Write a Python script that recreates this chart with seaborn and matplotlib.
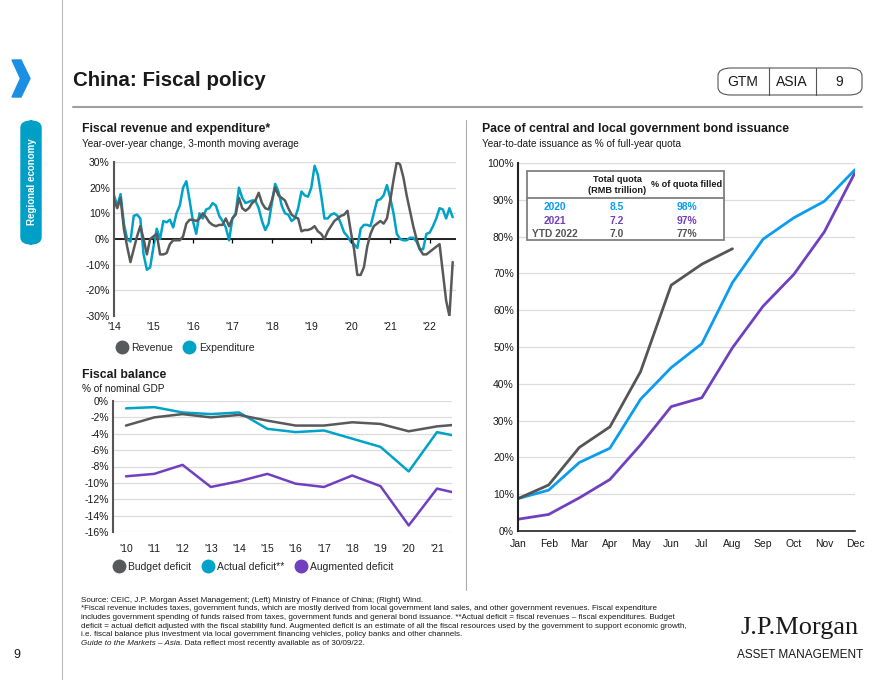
import numpy as np
import pandas as pd
import matplotlib
matplotlib.use('Agg')
import matplotlib.pyplot as plt
import matplotlib.font_manager as fm
from matplotlib.patches import Rectangle, FancyBboxPatch, Polygon
from matplotlib.lines import Line2D
import seaborn as sns

# ---- data ----
# Fiscal revenue / expenditure, yoy % 3m avg, Jan 2014 - Aug 2022
revenue = [
    15, 12, 16, 4, -3, -9, -4, 1, 5, 0, -6, 0,           # 2014
    1, 2, -6, -6, -5.5, -2, -0.5, -0.5, -0.5, 1, 6, 7.5,  # 2015
    7.5, 7, 8, 10, 8.5, 6.5, 5.5, 5, 5.5, 5.5, 8, 5,      # 2016
    8, 9.5, 16, 12, 11, 12, 14, 15, 18, 14, 12, 11.5,     # 2017
    15, 20, 17, 16, 15, 12, 9.5, 8.5, 8, 3, 3.5, 3.5,     # 2018
    4, 5, 3, 2, 0, 3, 5, 7, 8, 9, 9.5, 11,                # 2019
    3, -4, -14, -14, -11, -3, 2, 5, 6, 7, 6, 8,           # 2020
    15, 23, 30, 29, 24, 17, 11, 5, 0, -4, -6, -6,         # 2021
    -5, -4, -3, -2, -13, -24, -30, -9,                    # 2022
]
expenditure = [
    17, 13, 17.5, 6, 0, -1, 9, 9.5, 8, -6, -12, -11,      # 2014
    -3, 4, 0, 7, 6.5, 7.5, 4.5, 10, 13, 20, 22.5, 15,     # 2015
    7, 2, 10, 8, 11.5, 12, 14, 13, 9, 7, 4.5, -0.5,       # 2016
    8, 10, 20, 16, 14, 14.5, 15, 15, 12, 7, 3.5, 6,       # 2017
    14, 21.5, 18.5, 13, 10, 9.5, 7, 8, 12, 18.5, 17, 16.5,  # 2018
    20, 28.5, 25, 17, 8, 8, 9.5, 10, 9, 6, 2.5, 1,        # 2019
    -1, -2, -3.5, 4, 5.5, 5.5, 5, 10, 15, 15.5, 17, 21,   # 2020
    16, 10, 2, 0, -0.5, -0.5, 0.5, 0.5, -1, -4, -4, 2,    # 2021
    2.5, 5, 8, 12, 11.5, 8, 12, 8.5,                      # 2022
]
rev_ticks = ["'14", "'15", "'16", "'17", "'18", "'19", "'20", "'21", "'22"]

# Fiscal balance, % of nominal GDP
bal_years = list(range(2010, 2023))
bal_ticks = ["'10", "'11", "'12", "'13", "'14", "'15", "'16", "'17", "'18", "'19", "'20", "'21"]
budget_deficit = [-3.0, -2.0, -1.6, -2.0, -1.7, -2.4, -3.0, -3.0, -2.6, -2.8, -3.7, -3.1, -2.8]
actual_deficit = [-0.9, -0.75, -1.4, -1.6, -1.4, -3.4, -3.8, -3.6, -4.6, -5.6, -8.6, -3.8, -4.5]
augmented_deficit = [-9.2, -8.9, -7.8, -10.5, -9.8, -8.9, -10.1, -10.5, -9.1, -10.4, -15.2, -10.7, -11.5]

# Bond issuance, YTD % of full-year quota
months = ['Jan', 'Feb', 'Mar', 'Apr', 'May', 'Jun', 'Jul', 'Aug', 'Sep', 'Oct', 'Nov', 'Dec']
issuance_2020 = [8.8, 11.1, 18.6, 22.5, 35.8, 44.4, 50.9, 67.5, 79.3, 85.1, 89.6, 98.2]
issuance_2021 = [3.2, 4.5, 9.0, 14.0, 23.4, 33.8, 36.2, 49.8, 61.1, 69.7, 81.3, 97.4]
issuance_2022 = [8.8, 12.5, 22.7, 28.3, 43.3, 66.8, 72.5, 76.7]

table_years = ['2020', '2021', 'YTD 2022']
table_quota = ['8.5', '7.2', '7.0']
table_filled = ['98%', '97%', '77%']

# ---- style ----
sns.set_style('white')
names = {f.name for f in fm.fontManager.ttflist}
narrow = 'Liberation Sans Narrow' if 'Liberation Sans Narrow' in names else 'Liberation Sans'
has_narrow = narrow != 'Liberation Sans'
plt.rcParams['font.family'] = ['Liberation Sans', 'DejaVu Sans']

GRAY = '#58595B'
TEAL = '#00A3C8'
PURPLE = '#7040C0'
BLUE = '#0A9CF0'
GRID = '#DCDCDC'
TXT = '#1A1A1A'

W, H = 880, 680
fig = plt.figure(figsize=(W / 100, H / 100), dpi=100)


def fx(x):
    return x / W


def fy(y):
    return 1 - y / H


def axes_px(l, t, r, b):
    return fig.add_axes([fx(l), fy(b), fx(r) - fx(l), (b - t) / H])


def style_axis(ax, spine_color):
    for s in ['top', 'right', 'bottom']:
        ax.spines[s].set_visible(False)
    ax.spines['left'].set_color(spine_color)
    ax.spines['left'].set_linewidth(1.5)
    ax.grid(axis='y', color=GRID, linewidth=0.9)
    ax.grid(axis='x', visible=False)
    ax.set_axisbelow(True)
    ax.tick_params(axis='both', labelsize=7.5, colors=TXT, length=0, pad=3)
    ax.set_xlabel('')
    ax.set_ylabel('')


# ---- page furniture ----
fig.add_artist(Line2D([fx(62), fx(62)], [0, 1], color='#BBBBBB', lw=0.8))
fig.add_artist(Polygon([(fx(12), fy(60)), (fx(21), fy(60)), (fx(30), fy(78.5)),
                        (fx(21), fy(97)), (fx(12), fy(97)), (fx(20.5), fy(78.5))],
                       closed=True, color='#1A8FE3'))
fig.add_artist(FancyBboxPatch((fx(21), fy(244)), fx(20), (244 - 121) / H,
                              boxstyle='round,pad=0,rounding_size=0.0125',
                              color='#00A0C6', mutation_aspect=H / W))
fig.text(fx(31.5), fy(182), 'Regional economy', rotation=90, color='white',
         fontsize=7, fontweight='bold', ha='center', va='center')
fig.text(fx(17), fy(655), '9', fontsize=9, ha='center', va='center', color=TXT)

fig.text(fx(73), fy(80), 'China: Fiscal policy', fontsize=16 if has_narrow else 14.8,
         fontweight='bold', family=narrow, ha='left', va='center', color=TXT)
fig.add_artist(Line2D([fx(73), fx(862)], [fy(107), fy(107)], color='#A0A0A0', lw=1.5))

fig.add_artist(FancyBboxPatch((fx(718), fy(95)), fx(862) - fx(718), 27 / H,
                              boxstyle='round,pad=0,rounding_size=0.015',
                              facecolor='white', edgecolor='#555555', lw=0.8,
                              mutation_aspect=H / W))
for xd in [769, 816]:
    fig.add_artist(Line2D([fx(xd), fx(xd)], [fy(95), fy(68)], color='#555555', lw=0.8))
for xt, t in [(743, 'GTM'), (792, 'ASIA'), (839, '9')]:
    fig.text(fx(xt), fy(82), t, fontsize=10, family=narrow, ha='center', va='center', color=TXT)

fig.add_artist(Line2D([fx(466), fx(466)], [fy(120), fy(590)], color='#AAAAAA', lw=0.8))

# ---- fiscal revenue and expenditure ----
df_rev = pd.DataFrame({'m': np.arange(len(revenue)), 'Revenue': revenue, 'Expenditure': expenditure})
ax1 = axes_px(114, 162, 456, 316)
sns.lineplot(data=df_rev, x='m', y='Expenditure', ax=ax1, color=TEAL, lw=1.8)
sns.lineplot(data=df_rev, x='m', y='Revenue', ax=ax1, color=GRAY, lw=1.8)
ax1.set_xlim(0, 104)
ax1.set_ylim(-30, 30)
ax1.set_yticks(range(-30, 31, 10))
ax1.set_yticklabels([f'{v}%' for v in range(-30, 31, 10)])
rev_tick_pos = np.arange(0, 12 * len(rev_ticks), 12)
ax1.set_xticks(rev_tick_pos)
ax1.set_xticklabels(rev_ticks)
style_axis(ax1, '#555555')
ax1.axhline(0, color='black', lw=1.2, zorder=1.5)
ax1.vlines(rev_tick_pos[1:], -1.6, 0, color='black', lw=0.9)
ax1.tick_params(axis='x', pad=4)
fig.text(fx(82), fy(129), 'Fiscal revenue and expenditure*', fontsize=8.8, fontweight='bold', va='center', color=TXT)
fig.text(fx(82), fy(144), 'Year-over-year change, 3-month moving average', fontsize=7.2, va='center', color=TXT)
fig.legend(handles=[Line2D([], [], marker='o', ls='none', ms=9, color=GRAY, label='Revenue'),
                    Line2D([], [], marker='o', ls='none', ms=9, color=TEAL, label='Expenditure')],
           loc='center left', bbox_to_anchor=(fx(108), fy(348)), ncol=2, frameon=False,
           fontsize=7.5, handletextpad=0.1, columnspacing=0.8, borderpad=0, handlelength=1.6)

# ---- fiscal balance ----
df_bal = pd.DataFrame({'year': bal_years, 'Budget deficit': budget_deficit,
                       'Actual deficit**': actual_deficit, 'Augmented deficit': augmented_deficit})
ax2 = axes_px(113, 401, 452, 532)
sns.lineplot(data=df_bal, x='year', y='Augmented deficit', ax=ax2, color=PURPLE, lw=1.8)
sns.lineplot(data=df_bal, x='year', y='Actual deficit**', ax=ax2, color=TEAL, lw=1.8)
sns.lineplot(data=df_bal, x='year', y='Budget deficit', ax=ax2, color=GRAY, lw=1.8)
ax2.set_xlim(2009.54, 2021.53)
ax2.set_ylim(-16, 0)
ax2.set_yticks(range(-16, 1, 2))
ax2.set_yticklabels([f'{v}%' for v in range(-16, 1, 2)])
ax2.set_xticks(bal_years[:len(bal_ticks)])
ax2.set_xticklabels(bal_ticks)
style_axis(ax2, '#555555')
ax2.tick_params(axis='x', pad=9)
fig.text(fx(82), fy(375), 'Fiscal balance', fontsize=8.8, fontweight='bold', va='center', color=TXT)
fig.text(fx(82), fy(389), '% of nominal GDP', fontsize=7.2, va='center', color=TXT)
fig.legend(handles=[Line2D([], [], marker='o', ls='none', ms=9, color=GRAY, label='Budget deficit'),
                    Line2D([], [], marker='o', ls='none', ms=9, color=TEAL, label='Actual deficit**'),
                    Line2D([], [], marker='o', ls='none', ms=9, color=PURPLE, label='Augmented deficit')],
           loc='center left', bbox_to_anchor=(fx(105), fy(567)), ncol=3, frameon=False,
           fontsize=7.5, handletextpad=0.1, columnspacing=0.8, borderpad=0, handlelength=1.6)

# ---- bond issuance ----
df_iss = pd.DataFrame({'m': np.arange(12), '2020': issuance_2020, '2021': issuance_2021,
                       '2022': issuance_2022 + [np.nan] * (12 - len(issuance_2022))})
ax3 = axes_px(518, 163, 855, 531)
sns.lineplot(data=df_iss, x='m', y='2021', ax=ax3, color=PURPLE, lw=2)
sns.lineplot(data=df_iss, x='m', y='2020', ax=ax3, color=BLUE, lw=2)
sns.lineplot(data=df_iss.dropna(), x='m', y='2022', ax=ax3, color='#555555', lw=2)
ax3.set_xlim(0, 11)
ax3.set_ylim(0, 100)
ax3.set_yticks(range(0, 101, 10))
ax3.set_yticklabels([f'{v}%' for v in range(0, 101, 10)])
ax3.set_xticks(range(12))
ax3.set_xticklabels(months)
style_axis(ax3, '#222222')
ax3.spines['bottom'].set_visible(True)
ax3.spines['bottom'].set_color('#222222')
ax3.spines['bottom'].set_linewidth(1.2)
ax3.tick_params(axis='x', length=3, width=1, color='#222222', direction='out', pad=3)
fig.text(fx(482), fy(129), 'Pace of central and local government bond issuance', fontsize=8.8,
         fontweight='bold', va='center', color=TXT)
fig.text(fx(482), fy(144), 'Year-to-date issuance as % of full-year quota', fontsize=7.2, va='center', color=TXT)

# table inside the chart
fig.add_artist(Rectangle((fx(527), fy(240)), fx(724) - fx(527), (240 - 171) / H,
                         facecolor='white', edgecolor='#808080', lw=1.3, zorder=5))
fig.add_artist(Line2D([fx(527), fx(724)], [fy(198), fy(198)], color='#808080', lw=1.3, zorder=6))
fig.text(fx(617), fy(185), 'Total quota\n(RMB trillion)', fontsize=6.6, fontweight='bold',
         ha='center', va='center', color=TXT, linespacing=1.15, zorder=7)
fig.text(fx(687), fy(185), '% of quota filled', fontsize=6.6, fontweight='bold',
         ha='center', va='center', color=TXT, zorder=7)
row_colors = [BLUE, PURPLE, '#555555']
for i, (yr, q, f) in enumerate(zip(table_years, table_quota, table_filled)):
    yy = fy(207 + 13.5 * i)
    for xt, t in [(555, yr), (617, q), (687, f)]:
        fig.text(fx(xt), yy, t, fontsize=7.4, fontweight='bold', ha='center', va='center',
                 color=row_colors[i], zorder=7)

# ---- footer ----
notes = [
    'Source: CEIC, J.P. Morgan Asset Management; (Left) Ministry of Finance of China; (Right) Wind.',
    '*Fiscal revenue includes taxes, government funds, which are mostly derived from local government land sales, and other government revenues. Fiscal expenditure',
    'includes government spending of funds raised from taxes, government funds and general bond issuance. **Actual deficit = fiscal revenues \u2013 fiscal expenditures. Budget',
    'deficit = actual deficit adjusted with the fiscal stability fund. Augmented deficit is an estimate of all the fiscal resources used by the government to support economic growth,',
    'i.e. fiscal balance plus investment via local government financing vehicles, policy banks and other channels.',
]
fsz = 6.4 if has_narrow else 5.8
for i, line in enumerate(notes):
    fig.text(fx(81), fy(600 + 8.7 * i), line, fontsize=fsz, family=narrow, va='center', color=TXT)
t_it = fig.text(fx(81), fy(600 + 8.7 * 5), 'Guide to the Markets \u2013 Asia', fontsize=fsz, family=narrow,
                style='italic', va='center', color=TXT)
fig.canvas.draw()
bb = t_it.get_window_extent()
fig.text(bb.x1 / W, fy(600 + 8.7 * 5), '. Data reflect most recently available as of 30/09/22.',
         fontsize=fsz, family=narrow, va='center', color=TXT)

fig.text(fx(800), fy(628), 'J.P.Morgan', fontsize=19, family=['Liberation Serif', 'DejaVu Serif'],
         ha='center', va='center', color=TXT)
fig.text(fx(800), fy(655), 'ASSET MANAGEMENT', fontsize=8.5, family=narrow,
         ha='center', va='center', color=TXT)

fig.savefig('out.png', dpi=100)
